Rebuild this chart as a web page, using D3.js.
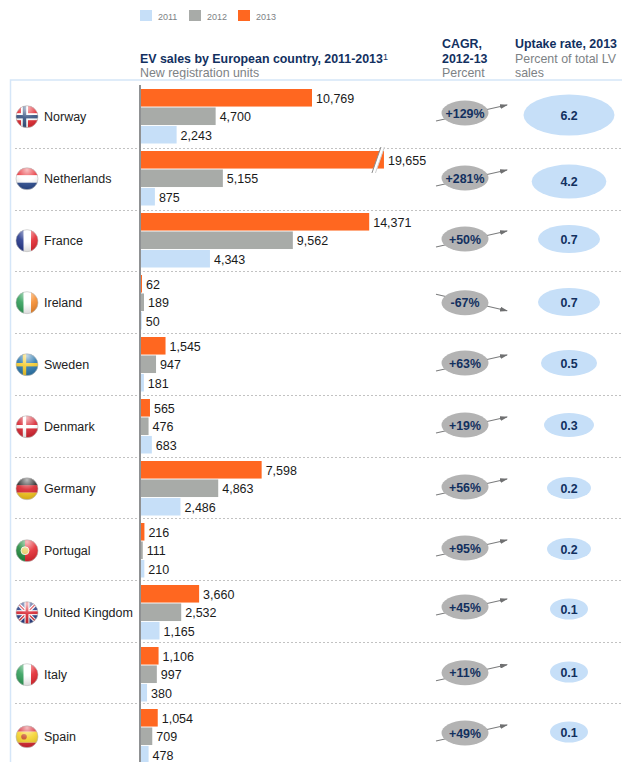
<!DOCTYPE html>
<html>
<head>
<meta charset="utf-8">
<script src="https://d3js.org/d3.v7.min.js"></script>
<style>
  html, body { margin: 0; padding: 0; background: #fff; }
  svg { display: block; font-family: "Liberation Sans", Arial, sans-serif; }
</style>
</head>
<body>
<svg id="chart"></svg>
<script>
(function() {
    const width = 622
    const height = 762

    const countries = ["Norway", "Netherlands", "France", "Ireland", "Sweden", "Denmark", "Germany", "Portugal", "United Kingdom", "Italy", "Spain"]
    const sales2013 = [10769, 19655, 14371, 62, 1545, 565, 7598, 216, 3660, 1106, 1054]
    const sales2012 = [4700, 5155, 9562, 189, 947, 476, 4863, 111, 2532, 997, 709]
    const sales2011 = [2243, 875, 4343, 50, 181, 683, 2486, 210, 1165, 380, 478]
    const cagr = [129, 281, 50, -67, 63, 19, 56, 95, 45, 11, 49]
    const uptake = [6.2, 4.2, 0.7, 0.7, 0.5, 0.3, 0.2, 0.2, 0.1, 0.1, 0.1]
    const years = ["2011", "2012", "2013"]

    const navy = "#12305f"
    const greyText = "#7d8285"
    const colors = { "2011": "#c6dff8", "2012": "#a8aba8", "2013": "#ff6720" }

    // The bubbles in the original are hand placed, not quite on the row grid
    const cagrNudge = [-2, 1, 0, 1.7, 0, 0, 0, -1, -4, -0.3, -2]
    const uptakeNudge = [0, 4.6, 0, 1, 0, 0, 1, 0, -2, -1, -3]

    var svg = d3.select("#chart")
        .attr("width", width)
        .attr("height", height)

    var defs = svg.append("defs")

    // Scales
    var x = d3.scaleLinear().domain([0, 10769]).range([141, 312])
    var xBroken = 15300 // longest bar is cut here, see break mark below
    var row = d3.scaleBand().domain(countries).range([86, 86 + 62 * countries.length])
    var divider = d3.scalePoint().domain(countries).range([148, 148 + 61.7 * (countries.length - 1)])
    var bar = d3.scaleBand().domain(["2013", "2012", "2011"]).range([3, 57.5]).paddingInner(0.05)
    var uptakeSizes = [0.1, 0.2, 0.3, 0.5, 0.7, 4.2, 6.2]
    var uptakeRx = d3.scaleLinear().domain(uptakeSizes).range([19, 22, 25, 28, 31, 37.3, 45.5])
    var uptakeRy = d3.scaleLinear().domain(uptakeSizes).range([10.5, 11, 12, 13, 14, 17, 20.5])

    // Legend
    var legend = svg.append("g").selectAll("g")
        .data(years)
        .enter()
        .append("g")
        .attr("transform", (d, i) => "translate(" + (140 + i * 49) + ",10)")
    legend.append("rect").attr("width", 12).attr("height", 11).attr("fill", (d) => colors[d])
    legend.append("text").attr("x", 18).attr("y", 10).attr("font-size", 9).attr("fill", greyText).text((d) => d)

    // Headers
    function header(px, py, str, bold) {
        return svg.append("text").attr("x", px).attr("y", py)
            .attr("font-size", 12.4)
            .attr("font-weight", bold ? "bold" : "normal")
            .attr("fill", bold ? navy : greyText)
            .text(str)
    }
    var title = header(140, 63, "EV sales by European country, 2011-2013", true)
    title.append("tspan").attr("font-size", 9).attr("font-weight", "normal").attr("dy", -3).text("1")
    header(140, 77, "New registration units", false)
    header(442, 48, "CAGR,", true)
    header(442, 63, "2012-13", true)
    header(442, 77, "Percent", false)
    header(515, 48, "Uptake rate, 2013", true)
    header(515, 63, "Percent of total LV", false)
    header(515, 77, "sales", false)

    // Frame
    svg.append("path")
        .attr("d", "M622,80H10.5V762")
        .attr("fill", "none")
        .attr("stroke", "#d5e6f8")
        .attr("stroke-width", 1.5)

    // Dashed row separators
    svg.append("g").selectAll("line")
        .data(countries.slice(0, -1))
        .enter()
        .append("line")
        .attr("x1", 15)
        .attr("x2", width)
        .attr("y1", (d) => Math.round(divider(d)) + 0.5)
        .attr("y2", (d) => Math.round(divider(d)) + 0.5)
        .attr("stroke", "#c2c2c2")
        .attr("stroke-dasharray", "2,2")

    // Bars
    var rows = svg.append("g").selectAll("g")
        .data(countries)
        .enter()
        .append("g")
        .attr("transform", (d) => "translate(0," + row(d) + ")")

    const series = { "2013": sales2013, "2012": sales2012, "2011": sales2011 }
    const fmt = d3.format(",")

    rows.each(function(c, i) {
        var g = d3.select(this)
        years.slice().reverse().forEach(function(y) {
            var v = series[y][i]
            var shown = Math.min(v, xBroken)
            g.append("rect")
                .attr("x", x(0))
                .attr("y", bar(y))
                .attr("width", x(shown) - x(0))
                .attr("height", bar.bandwidth())
                .attr("fill", colors[y])
            g.append("text")
                .attr("x", x(shown) + 4)
                .attr("y", bar(y) + bar.bandwidth() / 2 + 5)
                .attr("font-size", 12.5)
                .attr("fill", "#1a1a1a")
                .text(fmt(v))
            if (v > xBroken) {
                // break mark on the cut bar
                var bx = x(xBroken) - 12
                var by = bar(y)
                g.append("path")
                    .attr("d", "M" + bx + "," + (by + 22) + "L" + (bx + 9) + "," + (by - 4) + "h3.5L" + (bx + 3.5) + "," + (by + 22) + "Z")
                    .attr("fill", "#fff")
                g.append("path")
                    .attr("d", "M" + bx + "," + (by + 22) + "L" + (bx + 9) + "," + (by - 4))
                    .attr("stroke", "#8d8d8d")
                    .attr("fill", "none")
                g.append("path")
                    .attr("d", "M" + (bx + 3.5) + "," + (by + 22) + "L" + (bx + 12.5) + "," + (by - 4))
                    .attr("stroke", "#cfcfcf")
                    .attr("fill", "none")
            }
        })
    })

    // Axis line
    svg.append("line")
        .attr("x1", 140).attr("x2", 140)
        .attr("y1", 85).attr("y2", height)
        .attr("stroke", "#8f9193")
        .attr("stroke-width", 2)

    // Country names
    rows.append("text")
        .attr("x", 44)
        .attr("y", 35)
        .attr("font-size", 12.5)
        .attr("fill", "#222")
        .text((d) => d)

    // Flags
    const flagR = 11
    defs.append("clipPath").attr("id", "flagClip").append("circle").attr("r", flagR)
    var gloss = defs.append("radialGradient").attr("id", "gloss").attr("cx", "50%").attr("cy", "10%").attr("r", "90%")
    gloss.append("stop").attr("offset", "0%").attr("stop-color", "#fff").attr("stop-opacity", 0.7)
    gloss.append("stop").attr("offset", "50%").attr("stop-color", "#fff").attr("stop-opacity", 0.12)
    gloss.append("stop").attr("offset", "100%").attr("stop-color", "#000").attr("stop-opacity", 0.15)

    function rect(g, px, py, w, h, fill) {
        g.append("rect").attr("x", px).attr("y", py).attr("width", w).attr("height", h).attr("fill", fill)
    }
    function vertical(a, b, c) {
        return function(g) { rect(g, -11, -11, 8, 22, a); rect(g, -3.5, -11, 7.5, 22, b); rect(g, 4, -11, 7, 22, c) }
    }
    function horizontal(a, b, c) {
        return function(g) { rect(g, -11, -11, 22, 8, a); rect(g, -11, -3.5, 22, 7.5, b); rect(g, -11, 4, 22, 7, c) }
    }
    function nordic(bg, outer, inner) {
        return function(g) {
            rect(g, -11, -11, 22, 22, bg)
            if (outer) { rect(g, -6, -11, 7, 22, outer); rect(g, -11, -3.5, 22, 7, outer) }
            rect(g, -4.2, -11, 3.4, 22, inner)
            rect(g, -11, -1.7, 22, 3.4, inner)
        }
    }
    const flags = {
        "Norway": nordic("#e3262e", "#fff", "#34507f"),
        "Netherlands": horizontal("#e8333a", "#fff", "#2a4a8e"),
        "France": vertical("#22358a", "#fff", "#e3262e"),
        "Ireland": vertical("#2f9e58", "#fff", "#f58a2b"),
        "Sweden": nordic("#2a77ad", null, "#f4cb2c"),
        "Denmark": nordic("#d8232f", null, "#fff"),
        "Germany": horizontal("#222", "#d8212a", "#f5c518"),
        "Portugal": function(g) {
            rect(g, -11, -11, 9, 22, "#1f8a3c")
            rect(g, -2, -11, 13, 22, "#e3262e")
            g.append("circle").attr("cx", -2).attr("r", 4).attr("fill", "#e8d36a").attr("stroke", "#fff").attr("stroke-width", 0.8)
        },
        "United Kingdom": function(g) {
            rect(g, -11, -11, 22, 22, "#2b3f86")
            g.append("path").attr("d", "M-11,-11L11,11M11,-11L-11,11").attr("stroke", "#fff").attr("stroke-width", 3.5)
            g.append("path").attr("d", "M-11,-11L11,11M11,-11L-11,11").attr("stroke", "#d8232f").attr("stroke-width", 1.2)
            rect(g, -2.5, -11, 5, 22, "#fff")
            rect(g, -11, -2.5, 22, 5, "#fff")
            rect(g, -1.4, -11, 2.8, 22, "#d8232f")
            rect(g, -11, -1.4, 22, 2.8, "#d8232f")
        },
        "Italy": vertical("#2f9e58", "#fff", "#e3262e"),
        "Spain": function(g) {
            rect(g, -11, -11, 22, 6, "#d8232f")
            rect(g, -11, -5, 22, 11, "#f6d32a")
            rect(g, -11, 6, 22, 5, "#d8232f")
            g.append("circle").attr("cx", -3).attr("cy", 0).attr("r", 2.8).attr("fill", "#c8502a")
        }
    }

    var flag = rows.append("g")
        .attr("transform", "translate(27,30.7)")
    flag.append("g")
        .attr("clip-path", "url(#flagClip)")
        .each(function(d) { flags[d](d3.select(this)) })
    flag.append("circle").attr("r", flagR).attr("fill", "url(#gloss)")
    flag.append("circle").attr("r", flagR).attr("fill", "none").attr("stroke", "#bbb").attr("stroke-width", 0.6)

    // CAGR arrows and ellipses
    defs.append("marker").attr("id", "arrow")
        .attr("viewBox", "0 0 8 5").attr("refX", 7).attr("refY", 2.5)
        .attr("markerWidth", 8).attr("markerHeight", 5).attr("markerUnits", "userSpaceOnUse")
        .attr("orient", "auto")
        .append("path").attr("d", "M0,0L8,2.5L0,5Z").attr("fill", "#6f7071")

    var growth = rows.append("g")
        .attr("transform", (d, i) => "translate(465," + (29 + cagrNudge[i]) + ")")
    growth.append("line")
        .attr("x1", -29)
        .attr("x2", 42)
        .attr("y1", (d, i) => cagr[i] < 0 ? -8.5 : 8)
        .attr("y2", (d, i) => cagr[i] < 0 ? 8 : -8)
        .attr("stroke", "#7b7c7d")
        .attr("stroke-width", 1.1)
        .attr("marker-end", "url(#arrow)")
    growth.append("ellipse")
        .attr("rx", 23.5)
        .attr("ry", 12.5)
        .attr("fill", "#b3b3b3")
    growth.append("text")
        .attr("y", 4.5)
        .attr("text-anchor", "middle")
        .attr("font-size", 12.4)
        .attr("font-weight", "bold")
        .attr("fill", navy)
        .text((d, i) => (cagr[i] > 0 ? "+" : "") + cagr[i] + "%")

    // Uptake ellipses
    var share = rows.append("g")
        .attr("transform", (d, i) => "translate(569," + (29 + uptakeNudge[i]) + ")")
    share.append("ellipse")
        .attr("rx", (d, i) => uptakeRx(uptake[i]))
        .attr("ry", (d, i) => uptakeRy(uptake[i]))
        .attr("fill", "#c6dff8")
    share.append("text")
        .attr("y", 4.5)
        .attr("text-anchor", "middle")
        .attr("font-size", 12.4)
        .attr("font-weight", "bold")
        .attr("fill", navy)
        .text((d, i) => d3.format(".1f")(uptake[i]))
})();
</script>
</body>
</html>
